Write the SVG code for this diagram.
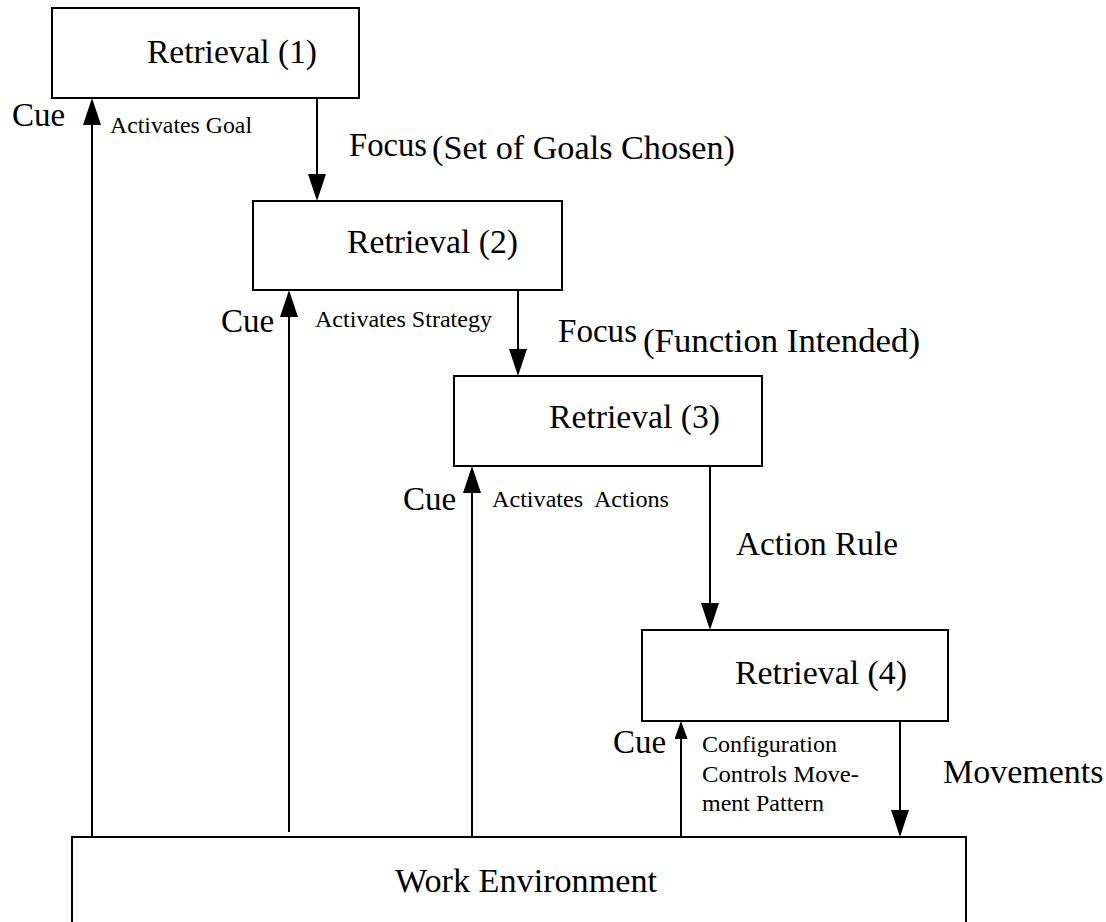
<svg xmlns="http://www.w3.org/2000/svg" width="1106" height="922" viewBox="0 0 1106 922">
  <style>
    .box { fill: #ffffff; stroke: #000000; stroke-width: 2; }
    .wire { fill: none; stroke: #000000; stroke-width: 2; }
    .txt text { fill: #000000; }
    .title { font-size: 33.5px; }
    .big { font-size: 33px; }
    .small { font-size: 23.5px; }
    .note { font-size: 24px; }
  </style>
  <defs>
    <marker id="head" markerUnits="userSpaceOnUse" markerWidth="28" markerHeight="20" refX="0" refY="9" orient="auto">
      <path d="M0,0 L27,9 L0,18 Z" fill="#000000"/>
    </marker>
    <marker id="headSmall" markerUnits="userSpaceOnUse" markerWidth="20" markerHeight="14" refX="0" refY="6.5" orient="auto">
      <path d="M0,0 L18,6.5 L0,13 Z" fill="#000000"/>
    </marker>
  </defs>
  <rect width="1106" height="922" fill="#ffffff"/>

  <!-- connectors -->
  <g id="connectors">
    <line class="wire" x1="92" y1="837" x2="92" y2="125" marker-end="url(#head)"/>
    <line class="wire" x1="317" y1="98" x2="317" y2="174" marker-end="url(#head)"/>
    <line class="wire" x1="289" y1="832" x2="289" y2="317" marker-end="url(#head)"/>
    <line class="wire" x1="518" y1="290" x2="518" y2="349" marker-end="url(#head)"/>
    <line class="wire" x1="472" y1="837" x2="472" y2="493" marker-end="url(#head)"/>
    <line class="wire" x1="710" y1="466" x2="710" y2="603" marker-end="url(#head)"/>
    <line class="wire" x1="681" y1="837" x2="681" y2="739" marker-end="url(#headSmall)"/>
    <line class="wire" x1="900" y1="721" x2="900" y2="810" marker-end="url(#head)"/>
  </g>

  <!-- connector labels -->
  <g id="labels" class="txt" font-family="'Liberation Serif', 'Times New Roman', Times, serif">
    <text class="big" x="12" y="126">Cue</text>
    <text class="small" x="110" y="133" textLength="142" lengthAdjust="spacingAndGlyphs">Activates Goal</text>
    <text class="big" x="349" y="156" textLength="78" lengthAdjust="spacingAndGlyphs">Focus</text>
    <text class="big" x="432" y="159" textLength="303" lengthAdjust="spacingAndGlyphs">(Set of Goals Chosen)</text>

    <text class="big" x="221" y="332">Cue</text>
    <text class="small" x="315" y="327" textLength="177" lengthAdjust="spacingAndGlyphs">Activates Strategy</text>
    <text class="big" x="558" y="342" textLength="79" lengthAdjust="spacingAndGlyphs">Focus</text>
    <text class="big" x="643" y="352" textLength="277" lengthAdjust="spacingAndGlyphs">(Function Intended)</text>

    <text class="big" x="403" y="510">Cue</text>
    <text class="small" x="492" y="507" textLength="177" lengthAdjust="spacingAndGlyphs" xml:space="preserve">Activates  Actions</text>
    <text class="big" x="736" y="555" textLength="162" lengthAdjust="spacingAndGlyphs">Action Rule</text>

    <text class="big" x="613" y="753">Cue</text>
    <text class="note" x="702" y="752" textLength="135" lengthAdjust="spacingAndGlyphs">Configuration</text>
    <text class="note" x="702" y="782" textLength="157" lengthAdjust="spacingAndGlyphs">Controls Move-</text>
    <text class="note" x="702" y="811" textLength="122" lengthAdjust="spacingAndGlyphs">ment Pattern</text>
    <text style="font-size:34px" x="943" y="783">Movements</text>
  </g>

  <!-- nodes -->
  <g class="txt" font-family="'Liberation Serif', 'Times New Roman', Times, serif">
    <g id="retrieval1">
      <rect class="box" x="52" y="8" width="307" height="90"/>
      <text class="title" x="147" y="63" textLength="170" lengthAdjust="spacingAndGlyphs">Retrieval (1)</text>
    </g>
    <g id="retrieval2">
      <rect class="box" x="253" y="201" width="309" height="89"/>
      <text class="title" x="347" y="253" textLength="171" lengthAdjust="spacingAndGlyphs">Retrieval (2)</text>
    </g>
    <g id="retrieval3">
      <rect class="box" x="454" y="376" width="308" height="90"/>
      <text class="title" x="549" y="428" textLength="171" lengthAdjust="spacingAndGlyphs">Retrieval (3)</text>
    </g>
    <g id="retrieval4">
      <rect class="box" x="642" y="630" width="306" height="91"/>
      <text class="title" x="735" y="684" textLength="172" lengthAdjust="spacingAndGlyphs">Retrieval (4)</text>
    </g>
    <g id="work-environment">
      <rect class="box" x="72" y="837" width="894" height="100"/>
      <text style="font-size:34px" x="395" y="892" textLength="262" lengthAdjust="spacingAndGlyphs">Work Environment</text>
    </g>
  </g>
</svg>
